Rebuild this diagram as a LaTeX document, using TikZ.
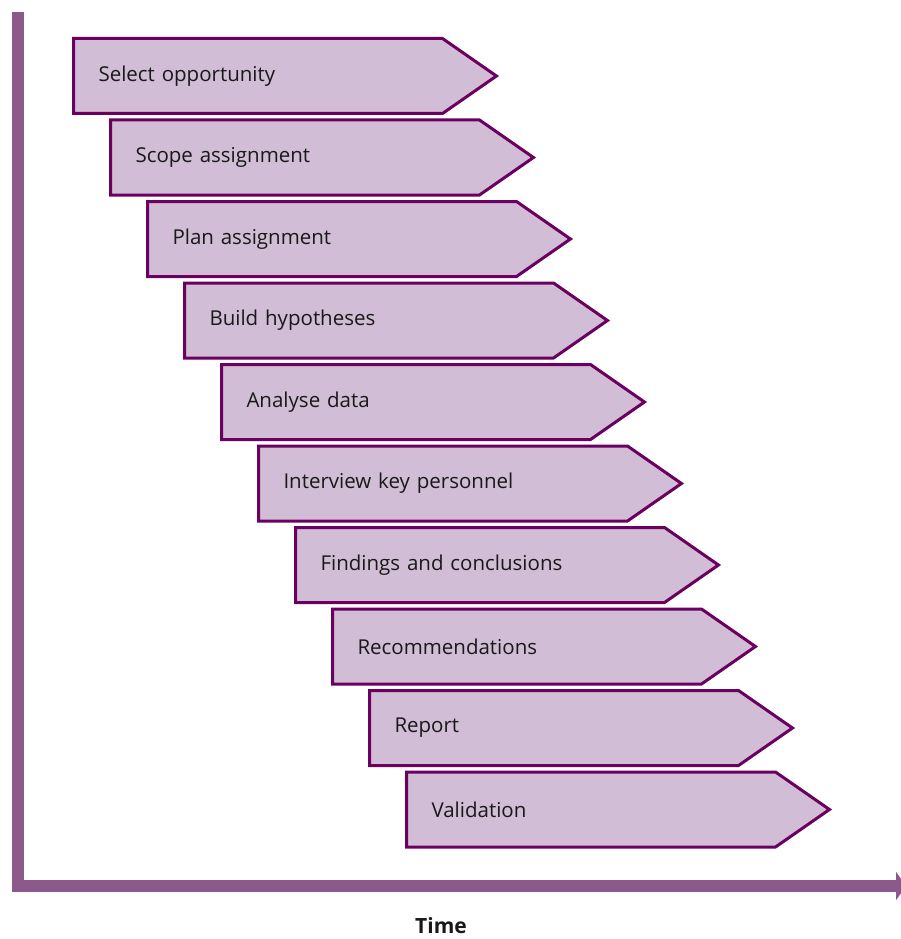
\documentclass[tikz,border=0pt]{standalone}
\usepackage{fontspec}
\setmainfont{Open Sans}
\usepackage{tikz}
\usetikzlibrary{positioning, shapes.symbols, arrows.meta}
\definecolor{stageedge}{RGB}{107,0,96}
\definecolor{stagefill}{RGB}{209,189,213}
\definecolor{axisline}{RGB}{139,90,139}

\tikzset{
  stage/.style={shape=signal, signal to=east, signal pointer angle=69.6,
    draw=stageedge, fill=stagefill, line width=3pt, anchor=north west,
    minimum height=75pt, text width=319pt, inner xsep=25pt, inner ysep=0pt,
    align=left, font=\fontsize{20.5}{24}\selectfont, text=black!90},
  axis/.style={axisline, line width=12pt, line join=miter}
}

\begin{document}
\begin{tikzpicture}[x=1pt, y=-1pt]
\useasboundingbox (0,0) rectangle (900,939);

% time axis
\coordinate (top) at (18,12);
\coordinate (origin) at (18,886);
\coordinate (end) at (906,886);
\draw[axis, -{Triangle[length=10pt, width=28pt]}] (top) -- (origin) -- (end);
\node[font=\fontsize{21}{24}\selectfont\bfseries, text=black!90, inner sep=1pt] (time) at (441,926) {Time};

% stages
\node[stage] (select) at (72,37) {Select opportunity};
\node[stage] (scope) at (109,118.5) {Scope assignment};
\node[stage] (plan) at (146,200) {Plan assignment};
\node[stage] (build) at (183,281.5) {Build hypotheses};
\node[stage] (analyse) at (220,363) {Analyse data};
\node[stage] (interview) at (257,444.5) {Interview key personnel};
\node[stage] (findings) at (294,526) {Findings and conclusions};
\node[stage] (recommend) at (331,607.5) {Recommendations};
\node[stage] (report) at (368,689) {Report};
\node[stage] (validation) at (405,770.5) {Validation};
\end{tikzpicture}
\end{document}
